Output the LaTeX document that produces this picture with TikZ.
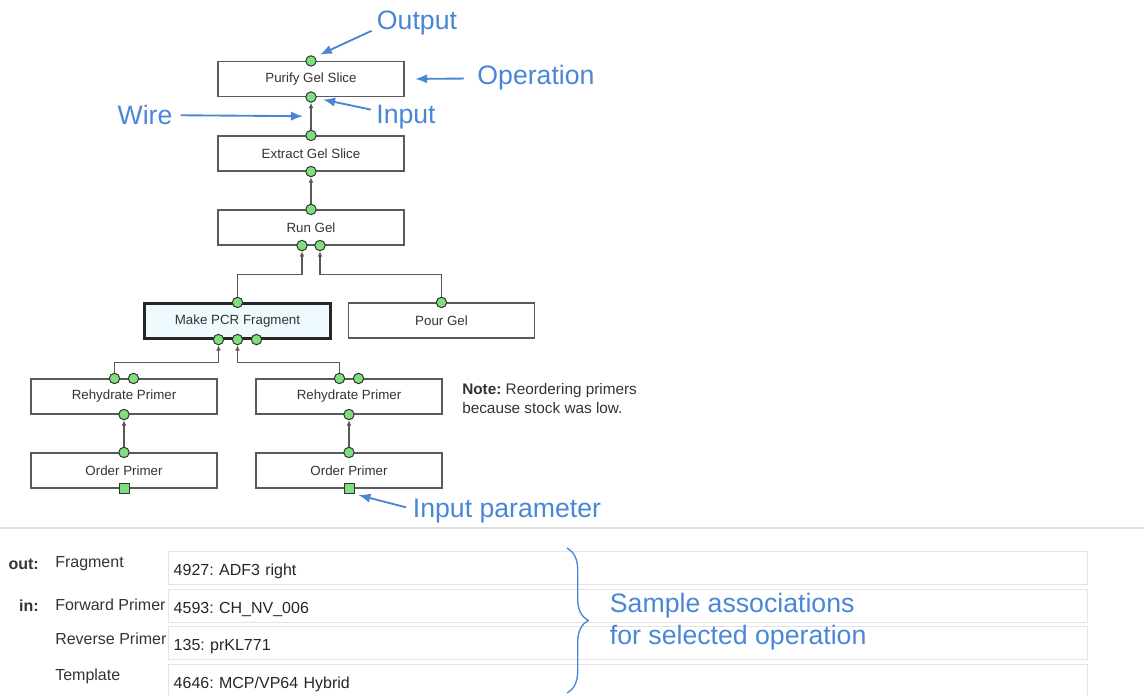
\documentclass[tikz,border=0pt]{standalone}
\usepackage{fontspec}
\setmainfont{Liberation Sans}
\usetikzlibrary{calc,arrows.meta,decorations.pathreplacing}
\definecolor{hintblue}{HTML}{4A86D8}
\definecolor{portgreen}{HTML}{7DE07D}
\definecolor{boxline}{HTML}{5A5A5A}
\definecolor{fieldline}{HTML}{E4E4E4}
\definecolor{pcrfill}{HTML}{EEFAFD}
\frenchspacing
\tikzset{
	op/.style={draw=boxline, line width=0.8pt, fill=white, minimum width=139.5pt, minimum height=26.25pt, inner sep=0pt, text=black!80, font=\fontsize{10}{12}\selectfont},
	chosen/.style={draw=black!85, line width=1.6pt, fill=pcrfill},
	port/.style={circle, draw=black!80, fill=portgreen, line width=0.75pt, minimum size=7.8pt, inner sep=0pt},
	parport/.style={rectangle, draw=black!80, fill=portgreen, line width=0.75pt, minimum size=7.5pt, inner sep=0pt},
	wire/.style={draw=black!65, line width=0.9pt, -{Latex[length=4pt,width=3.5pt]}},
	hint/.style={text=hintblue, font=\fontsize{20}{24}\selectfont, inner sep=2pt},
	pointer/.style={draw=hintblue, line width=1.4pt, -{Latex[length=9pt,width=7pt]}},
	note/.style={align=left, text=black!80, inner sep=0pt, font=\fontsize{11.5}{14.25}\selectfont},
	field/.style={draw=fieldline, line width=0.6pt, anchor=north west, minimum width=689pt, minimum height=24.5pt, text width=681pt, text height=11pt, text depth=0pt, align=left, inner xsep=3pt, text=black!85, font=\fontsize{12}{14}\selectfont},
	flabel/.style={anchor=west, inner sep=0pt, text=black!80, font=\fontsize{12}{14}\selectfont},
	ftag/.style={anchor=east, inner sep=0pt, text=black!80, font=\fontsize{12}{14}\selectfont\bfseries},
	sepline/.style={draw=black!12, line width=1.5pt},
	assocbrace/.style={decorate, decoration={brace, amplitude=16pt}, draw=hintblue, line width=1pt},
}
\begin{document}
\begin{tikzpicture}[x=0.75pt, y=-0.75pt]
	\useasboundingbox (0,0) rectangle (1144,695);

	\node[op] (purify) at (311,79) {Purify Gel Slice};
	\node[op] (extract) at (311,153.5) {Extract Gel Slice};
	\node[op] (rungel) at (311,227.5) {Run Gel};
	\node[op,chosen] (pcr) at (237.5,321) {Make PCR Fragment};
	\node[op] (pour) at (441.5,320.5) {Pour Gel};
	\node[op] (rehydl) at (124,396.5) {Rehydrate Primer};
	\node[op] (rehydr) at (349,396.5) {Rehydrate Primer};
	\node[op] (orderl) at (124,470.5) {Order Primer};
	\node[op] (orderr) at (349,470.5) {Order Primer};

	\node[port] (pg-out) at (purify.north) {};
	\node[port] (pg-in) at (purify.south) {};
	\node[port] (eg-out) at (extract.north) {};
	\node[port] (eg-in) at (extract.south) {};
	\node[port] (rg-out) at (rungel.north) {};
	\node[port] (rg-in1) at ($(rungel.south)+(-9,0)$) {};
	\node[port] (rg-in2) at ($(rungel.south)+(9,0)$) {};
	\node[port] (pcr-out) at (pcr.north) {};
	\node[port] (pcr-in1) at ($(pcr.south)+(-19,0)$) {};
	\node[port] (pcr-in2) at (pcr.south) {};
	\node[port] (pcr-in3) at ($(pcr.south)+(19,0)$) {};
	\node[port] (pour-out) at (pour.north) {};
	\node[port] (rhl-out1) at ($(rehydl.north)+(-9.5,0)$) {};
	\node[port] (rhl-out2) at ($(rehydl.north)+(9.5,0)$) {};
	\node[port] (rhl-in) at (rehydl.south) {};
	\node[port] (rhr-out1) at ($(rehydr.north)+(-9.5,0)$) {};
	\node[port] (rhr-out2) at ($(rehydr.north)+(9.5,0)$) {};
	\node[port] (rhr-in) at (rehydr.south) {};
	\node[port] (opl-out) at (orderl.north) {};
	\node[parport] (opl-par) at (orderl.south) {};
	\node[port] (opr-out) at (orderr.north) {};
	\node[parport] (opr-par) at (orderr.south) {};

	\draw[wire] (eg-out) -- (pg-in);
	\draw[wire] (rg-out) -- (eg-in);
	\draw[wire] (pcr-out) |- ($(rg-in1)+(0,29)$) -- (rg-in1);
	\draw[wire] (pour-out) |- ($(rg-in2)+(0,29)$) -- (rg-in2);
	\draw[wire] (rhl-out1) |- ($(pcr-in1)+(0,23)$) -- (pcr-in1);
	\draw[wire] (rhr-out1) |- ($(pcr-in2)+(0,23)$) -- (pcr-in2);
	\draw[wire] (opl-out) -- (rhl-in);
	\draw[wire] (opr-out) -- (rhr-in);

	\node[hint] (lbl-output) at (417,23) {Output};
	\node[hint] (lbl-op) at (536,78) {Operation};
	\node[hint] (lbl-input) at (406,117) {Input};
	\node[hint] (lbl-wire) at (145,115) {Wire};
	\node[hint] (lbl-param) at (507,511) {Input parameter};
	\coordinate (wire-mid) at ($(eg-out)!0.5!(pg-in)$);

	\draw[pointer, shorten <=2pt, shorten >=4pt] ([yshift=-5pt]lbl-output.west) -- (pg-out.north east);
	\draw[pointer, shorten <=8pt, shorten >=8pt] (lbl-op) -- (purify.east);
	\draw[pointer, shorten <=2pt, shorten >=5pt] (lbl-input) -- (pg-in);
	\draw[pointer, shorten <=4pt, shorten >=6pt] (lbl-wire) -- (wire-mid);
	\draw[pointer, shorten <=3pt, shorten >=3pt] ([yshift=2pt]lbl-param.west) -- (opr-par.south east);

	\node[note, anchor=north west] (note) at (462,383) {\textbf{Note:} Reordering primers\\because stock was low.};

	\draw[sepline] (0,528) -- (1144,528);

	\node[field] (f-frag) at (168,551) {4927: ADF3 right};
	\node[field] (f-fwd) at (168,589) {4593: CH\_NV\_006};
	\node[field] (f-rev) at (168,626) {135: prKL771};
	\node[field] (f-tmpl) at (168,664) {4646: MCP/VP64 Hybrid};
	\node[ftag] (t-out) at (39,564) {out:};
	\node[ftag] (t-in) at (39,606) {in:};
	\node[flabel] (l-frag) at (55,564) {Fragment};
	\node[flabel] (l-fwd) at (55,605) {Forward Primer};
	\node[flabel] (l-rev) at (55,639) {Reverse Primer};
	\node[flabel] (l-tmpl) at (55,676) {Template};

	\draw[assocbrace] (567,548) -- (567,693);
	\node[hint, anchor=west, align=left] (lbl-assoc) at (607,622) {Sample associations\\for selected operation};
\end{tikzpicture}
\end{document}
